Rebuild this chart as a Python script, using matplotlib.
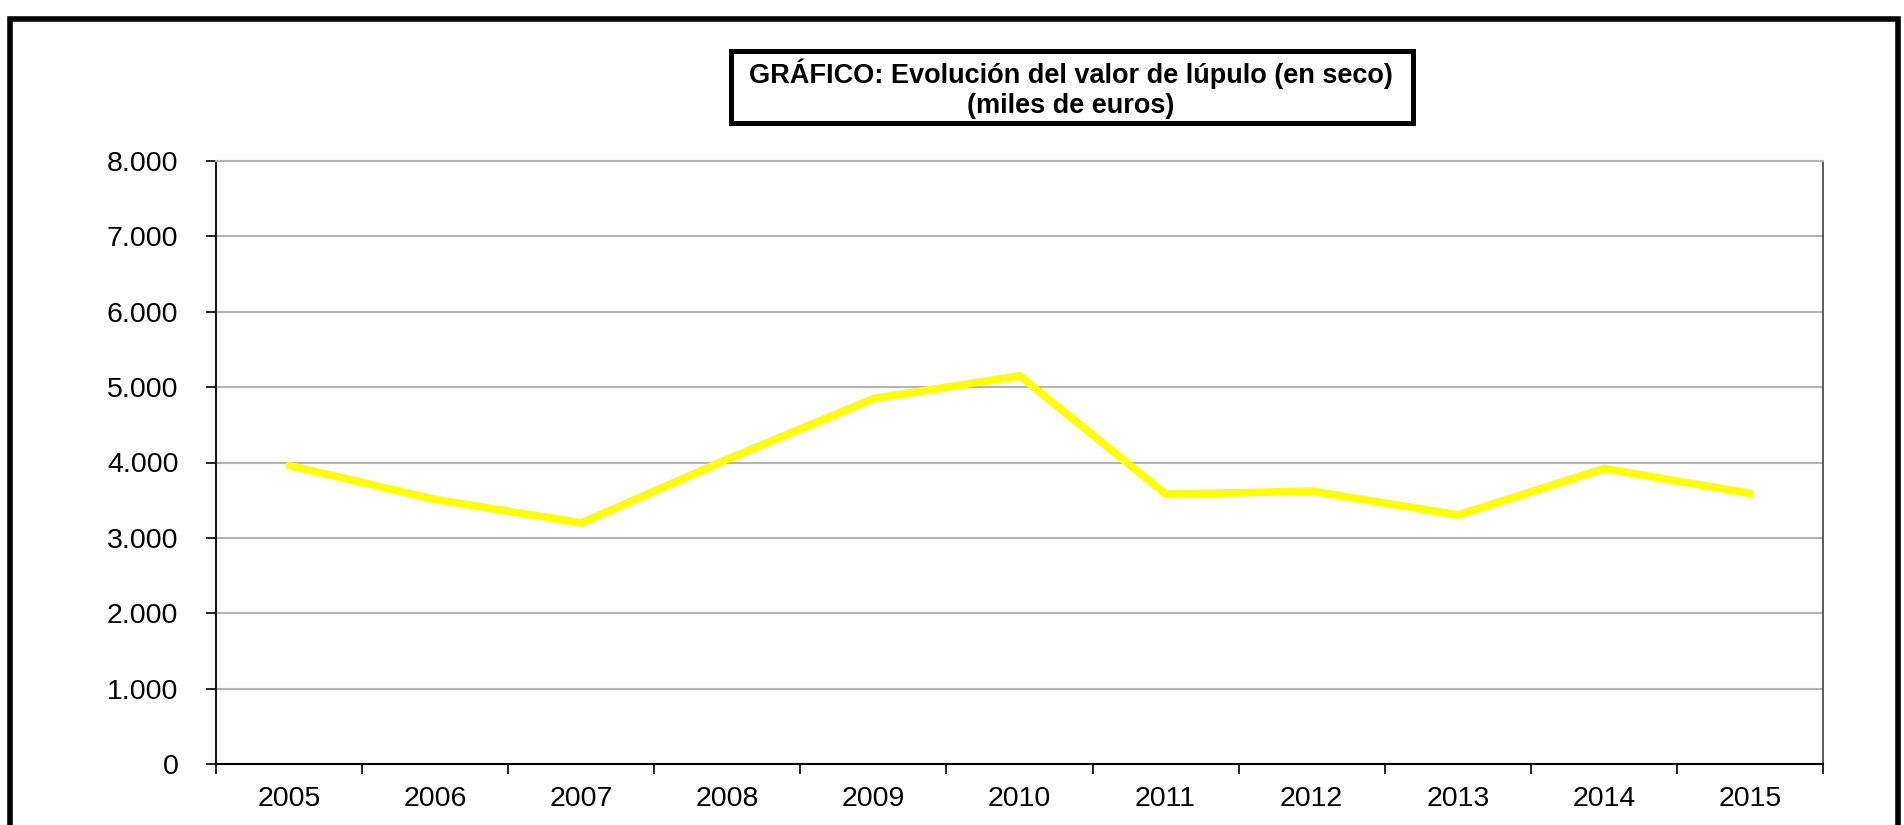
import matplotlib
matplotlib.use("Agg")
import matplotlib.pyplot as plt
from matplotlib.patches import Rectangle
from matplotlib.ticker import FuncFormatter, FixedLocator

plt.rcParams['font.family'] = ['Liberation Sans', 'DejaVu Sans']

years = ['2005', '2006', '2007', '2008', '2009', '2010',
         '2011', '2012', '2013', '2014', '2015']
valor = [3960, 3510, 3200, 4045, 4850, 5150, 3580, 3620, 3305, 3920, 3590]
titulo = "GRÁFICO: Evolución del valor de lúpulo (en seco)\n(miles de euros)"

W, H = 1904, 825
fig = plt.figure(figsize=(W / 100, H / 100), dpi=100)


def fx(px):
    return px / W


def fy(py):
    return 1 - py / H


# outer frame (bottom edge runs off the picture)
fig.patches.append(Rectangle((fx(10), fy(900)), fx(1898) - fx(10), fy(19) - fy(900),
                             transform=fig.transFigure, fill=False,
                             edgecolor='black', linewidth=4, clip_on=False))

ax = fig.add_axes([fx(216), fy(764), fx(1823) - fx(216), fy(161) - fy(764)])
x = list(range(len(years)))
ax.plot(x, valor, color='#FFFF00', linewidth=5.5, solid_capstyle='round',
        solid_joinstyle='miter', zorder=3)

ax.set_xlim(-0.5, len(years) - 0.5)
ax.set_ylim(0, 8000)
ax.set_yticks(range(0, 8001, 1000))
ax.yaxis.set_major_formatter(FuncFormatter(lambda v, p: f"{int(v):,}".replace(",", ".")))
ax.xaxis.set_major_locator(FixedLocator([i - 0.5 for i in range(len(years) + 1)]))
ax.xaxis.set_major_formatter(FuncFormatter(lambda v, p: ""))
ax.set_xticks(x, minor=True)
ax.set_xticklabels(years, minor=True)
ax.tick_params(axis='x', which='minor', length=0, pad=16, labelsize=20.5)
ax.tick_params(axis='x', which='major', length=7, width=1.2, color='black')
ax.tick_params(axis='y', length=7, width=1.2, color='black', pad=20, labelsize=20.5)

ax.grid(axis='y', color='#b4b4b4', linewidth=1.5, zorder=0)
ax.set_axisbelow(True)
ax.spines['left'].set_linewidth(1.3)
ax.spines['bottom'].set_linewidth(1.5)
ax.spines['right'].set_color('#404040')
ax.spines['right'].set_linewidth(1.2)
ax.spines['top'].set_color('#b4b4b4')
ax.spines['top'].set_linewidth(1.5)

# title box
fig.patches.append(Rectangle((fx(730.5), fy(122.5)), fx(1412.5) - fx(730.5), fy(50.8) - fy(122.5),
                             transform=fig.transFigure, fill=False,
                             edgecolor='black', linewidth=3.6))
fig.text(fx(1071), fy(89), titulo, ha='center', va='center', fontsize=19.5,
         fontweight='bold', linespacing=1.2)

fig.savefig("out.png", dpi=100)
